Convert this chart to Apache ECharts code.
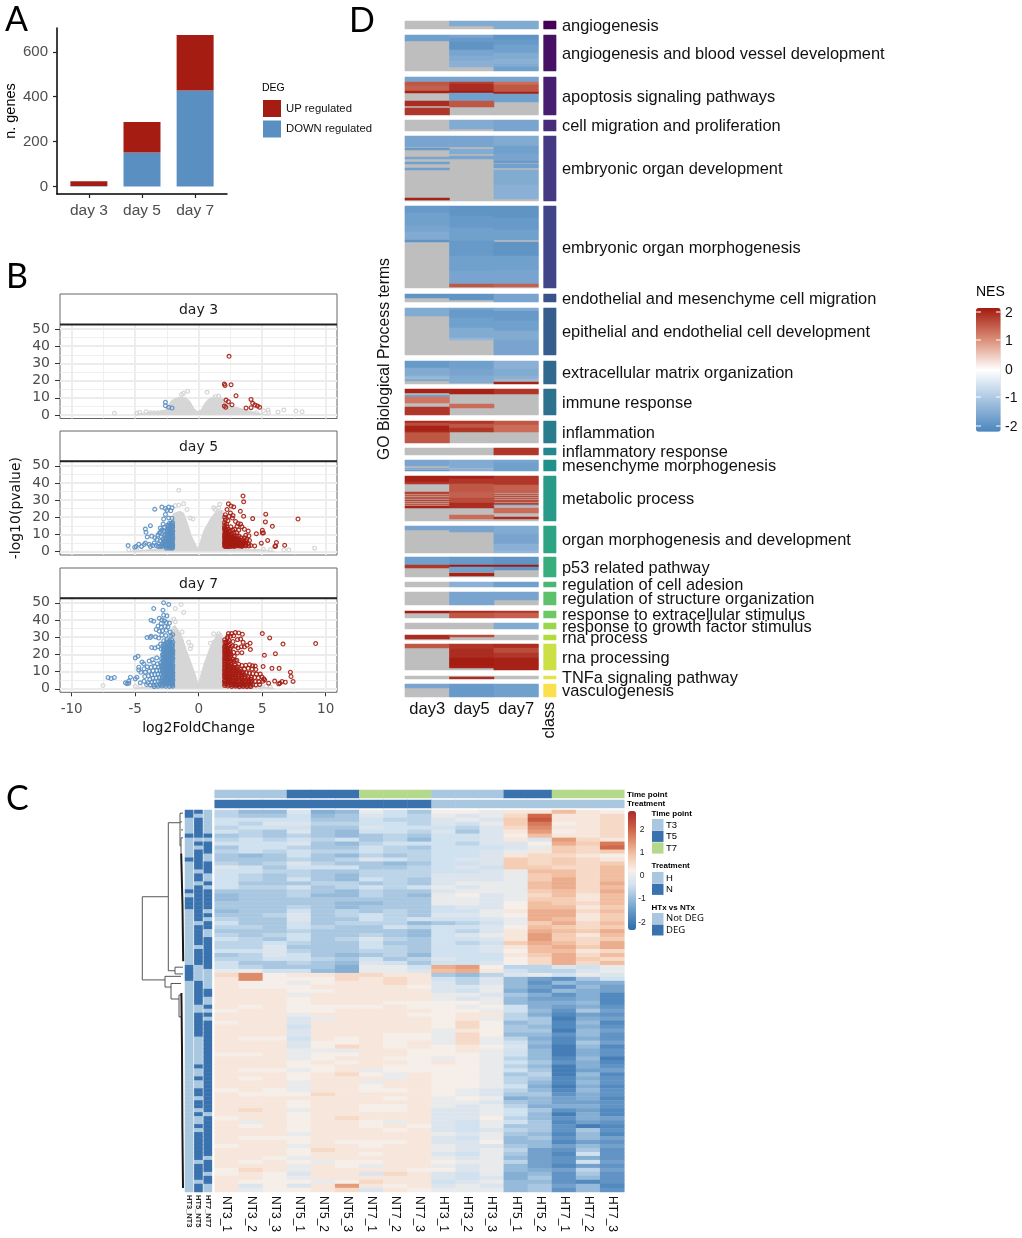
<!DOCTYPE html>
<html><head><meta charset="utf-8">
<style>html,body{margin:0;padding:0;background:#fff}#c{width:1022px;height:1238px}</style>
<script src="https://cdn.jsdelivr.net/npm/echarts@6/dist/echarts.min.js"></script>
</head><body><div id="c"></div>
<script>
// ---------- Panel A ----------
const barDays = ['day 3','day 5','day 7'];
const barDown = [3,152,428];
const barUp = [21,136,247];
// ---------- Panel B : hollow points, flat x,y lists ----------
const xMajor = [-10,-5,0,5,10];
const xMinor = [-7.5,-2.5,2.5,7.5];
const yMajor = [0,10,20,30,40,50];
const yMinor = [5,15,25,35,45];
const day3Gray = [-6.64,1,-4.86,1,-4.65,1.7,-4.15,1.9,-3.8,1.3,-3.5,1.3,-3.2,1.4,-2.9,1.6,-1.36,12,-.87,13.8,-1.2,12.6,.66,13.2,1.31,10.7,1.57,11,4.54,1.4,5.1,2.5,5.46,2.9,5.5,1.4,6.25,1.7,6.7,2.9,7.66,2.3,8.14,1.9];
const day3Down = [-2.62,7.4,-2.62,5.4,-2.36,4.5,-2.1,4.1];
const day3Up = [2.39,34.1,2.02,18,2.07,17.2,2.55,17.6,2.94,11.2,2.15,8.7,2.34,7.8,2.62,6,2.02,5.2,2.13,4.5,3.73,4.1,4.12,9.1,4.25,6.8,4.43,5.8,4.62,5.2,4.8,4.5,4.12,4.3];
const day3Hull = [-5,0,-4.6,.8,-3.8,1.5,-3,2,-2.6,3,-2.4,5,-2.2,8,-1.9,9.5,-1.4,10.5,-1,10,-.7,8,-.4,4,-.1,2,.2,3,.5,7,.8,9.5,1.2,10.5,1.8,10,2.2,7,2.6,5,3.2,4,3.9,2.5,4.6,1.2,5.4,0];
const day5Gray = [-1.57,35.7,-1.18,27.8,-1.57,27,-1.84,26.8,-.92,24.5,-.66,19.6,-.45,19,1.18,25.5,1.65,27.5,1.57,25.5,1.3,24.5,9.13,2,5.64,1,6.7,1,7.1,1,5.1,1.4,-5.5,1,-5,.8,-4.6,1.2];
const day5Down = [-5.56,3.5,-5.04,2.5,-4.93,3,-4.72,4.3,-4.5,3,-4.3,4.1,-4.2,5,-4.15,11.2,-4.2,13.1,-3.8,15.1,-3.46,24.7,-2.9,25.9,-2.62,25.1,-2.36,25.9,-2.1,25.5,-2.5,24,-2.2,23.8,-2.62,21.6,-2.76,19,-2.36,19.6,-2.1,19.4,-3.02,13.7,-4.05,8.5,-3.7,9,-3.45,8,-3.3,7,-3.2,9.6,-3.1,10.7,-3.5,5,-3.6,3.5,-3.8,3,-3.9,4.2,-3.2,3,-3.1,4.6,-3,6,-2.9,3,-2.8,5,-2.83,7.5,-2.7,9.5,-2.74,12,-2.68,14,-2.6,3.2,-2.62,5.5,-2.55,8,-2.5,10.5,-2.52,13,-2.45,15.5,-2.4,2.5,-2.43,4.5,-2.4,6.5,-2.35,9,-2.3,11.5,-2.33,14,-2.3,16.5,-2.25,3.5,-2.2,5.5,-2.24,7.5,-2.2,10,-2.2,12.5,-2.15,15,-2.1,3,-2.13,5,-2.1,7,-2.12,9,-2.1,11,-2.13,13,-2.05,15,-2.06,17,-2.8,16,-2.95,8.5,-3.35,3.5,-3,11.5,-2.9,12.6,-2.55,2,-2.3,2,-2.05,2.5,-2.04,4,-2.05,6,-2.03,8,-2.05,10,-2.04,12,-2.05,14];
const day5DownDense = [-2.08,2,-2.08,4.5,-2.08,7,-2.08,9.5,-2.08,12,-2.08,14.5,-2.08,16.5,-2.18,2.5,-2.18,4.5,-2.18,6.5,-2.18,8.5,-2.18,11,-2.18,13.5,-2.18,16,-2.28,3,-2.28,5,-2.28,6.5,-2.28,8.5,-2.28,10.5,-2.28,13,-2.28,15.5,-2.38,3.5,-2.38,5.5,-2.38,8,-2.38,10,-2.38,12.5,-2.38,15,-2.5,3,-2.5,5,-2.5,7.5,-2.5,9.5,-2.5,12,-2.62,4,-2.62,7,-2.62,10,-2.75,3.5,-2.75,6,-2.9,4,-3.05,3];
const day5Up = [7.82,19,5.28,21.8,5.25,17.3,5.8,14.7,5.01,12.4,4.54,10.4,5.01,10.8,5.1,10.8,5.43,6.5,4.93,4.9,6.12,5.3,6.06,3.3,6,3,6.77,3.7,4.41,3.3,3.94,3.3,4.25,19.2,3.49,32.4,3.54,29,2.34,27.8,2.55,26.5,2.76,26,2.23,24.5,3.28,23.5,2.5,22.5,3.54,20.6,2.65,19.5,2.1,21.5,2.05,20,2.1,18.5,2.3,18,2.4,20.5,2.7,21,2.9,17.5,3.1,16.3,3.3,16,3.02,14.7,3.4,14.5,3.6,13,3.9,12,3.7,9.5,3.95,9.2,3.6,8,3.8,7,4,6.5,4.1,3.5,3.7,3.2,3.4,3,3.2,3.2,3,3.4,2.8,3,2.6,3.1,2.4,2.9,2.2,3.2,2.05,3.5,2.03,5,2.06,6.5,2.04,8,2.05,9.5,2.07,11,2.05,12.5,2.03,14,2.05,15.5,2.04,17,2.2,4,2.22,5.5,2.18,7,2.2,8.5,2.24,10,2.2,11.5,2.17,13,2.22,14.5,2.19,16,2.35,4,2.38,5.5,2.33,7,2.36,8.5,2.34,10,2.37,11.5,2.33,13,2.5,4.1,2.53,5.5,2.48,7,2.52,8.5,2.5,10,2.47,12,2.53,14.5,2.65,4,2.63,5.5,2.67,7.2,2.65,8.6,2.62,10.5,2.68,12.5,2.8,4,2.78,5.5,2.83,7,2.8,9,2.78,11,2.83,13,3,4.5,3.04,6,2.98,7.5,3.02,9,3,11,3.15,4,3.18,5.5,3.13,7,3.17,9,3.15,12.5,3.35,3.8,3.32,5,3.37,6.5,3.33,8,3.5,4,3.53,5.5,3.48,7,3.7,4.2,3.73,5.8,3.9,4.5];
const day5UpDense = [2.06,3,2.06,4.3,2.06,5.7,2.06,7.3,2.06,8.8,2.06,10.3,2.06,13.2,2.14,3,2.14,4.6,2.14,6.2,2.14,7.8,2.14,9.2,2.14,10.8,2.14,12.2,2.28,3,2.28,4.6,2.28,6.2,2.28,7.8,2.28,9.2,2.28,10.8,2.42,3,2.42,4.8,2.42,6.2,2.42,7.8,2.42,9.2,2.58,3.4,2.58,4.8,2.58,6.2,2.58,7.8,2.58,9.2,2.72,3.4,2.72,4.8,2.72,6.2,2.72,8,2.9,3.4,2.9,4.8,2.9,6.4,2.9,8,3.08,3.4,3.08,5,3.08,6.4,3.25,3.6,3.25,5,3.45,3.4,3.45,4.8,3.65,3.6,3.65,5];
const day5Hull = [-5.5,0,-4,1,-3,1.8,-2.3,12,-2,22,-1.5,23.5,-1.2,22.5,-.9,17,-.6,9.5,-.3,5,-.05,1.5,.1,1.6,.4,12,.7,16,1,20,1.4,23.5,1.9,24,2.4,2,3.5,1.4,5,1,6,0];
const day7Gray = [-7.53,1.9,-1.84,46.7,-1.39,49,-1.18,44.4,-1.97,40.5,-1.84,39,-1.31,33,-.79,27,-.66,23.3,-.6,25,1.18,32,1.57,32,1.7,31,1.18,27,.92,26.5,5.64,1,5.3,1.5,4.9,1,-5,1.5,-4.6,1.7];
const day7Down = [-7.14,6.6,-6.9,6,-6.64,6.6,-5.77,3.5,-5.64,3,-5.5,4.5,-5.38,6.8,-5.5,3.2,-4.99,5.8,-4.86,6.8,-4.99,18,-4.78,18.9,-4.72,12.6,-4.72,11,-4.46,15.6,-4.33,14.6,-4.07,29.8,-3.81,29.8,-3.75,30.5,-3.54,46.7,-3.75,39.9,-3.54,39.3,-2.76,50,-2.36,49,-2.81,45.7,-2.76,42.8,-2.5,42.4,-3.1,41,-2.9,40,-2.7,39.5,-2.95,38,-2.55,38.5,-2.3,38.2,-3.2,36.5,-2.95,35.8,-2.65,36.2,-2.42,35.9,-3.35,34.5,-3.1,33.5,-2.85,33.8,-2.55,34,-2.25,33,-2.05,31.5,-2.2,30.8,-2.6,31,-2.9,31.2,-3.15,29.5,-3.4,30.2,-3.7,24,-3.45,23.8,-3.2,24.5,-3,26,-2.75,28,-2.5,28.6,-2.3,28,-2.12,28.5,-2.04,27,-2.1,25.8,-2.27,26,-2.45,26.4,-2.62,26,-2.8,25.3,-2.95,23,-2.8,22.7,-2.6,23.6,-2.45,24,-2.25,23.8,-2.08,23.5,-2.03,22,-2.15,21.6,-2.32,21.4,-2.5,21.6,-2.68,21,-2.85,20,-2.7,19,-2.52,19.4,-2.35,19.2,-2.18,19.5,-2.04,19.8,-2.03,17.8,-2.2,17.4,-2.38,17.2,-2.55,17.2,-2.74,17,-2.92,17.6,-3.3,18,-3.65,17,-3.9,16.2,-3.55,15,-3.25,14.6,-3,15.2,-2.78,15,-2.6,15,-2.42,15.2,-2.23,15.4,-2.05,15.6,-2.03,13.6,-2.2,13.2,-2.38,13.1,-2.56,13,-2.75,13,-2.95,12.8,-3.15,12.6,-3.45,12.9,-3.75,12.5,-4.05,12.8,-4.3,11.7,-4.55,9.6,-4.2,9.7,-3.9,10.2,-3.6,10.5,-3.3,10.6,-3.05,10.8,-2.85,10.9,-2.65,11,-2.48,11.1,-2.3,11,-2.14,11.2,-2.04,11.4,-2.03,9.4,-2.2,9,-2.38,9,-2.57,8.9,-2.76,8.8,-2.96,8.6,-3.2,8.6,-3.45,8.3,-3.7,8.2,-3.95,7.6,-4.25,7.2,-3.85,5.5,-3.6,6.2,-3.35,6.3,-3.1,6.5,-2.88,6.7,-2.68,6.8,-2.48,6.9,-2.3,7,-2.13,7.1,-2.03,7.2,-2.03,5.2,-2.2,4.9,-2.4,4.8,-2.6,4.7,-2.8,4.6,-3,4.4,-3.2,4.3,-3.45,4.1,-3.7,3.8,-4,3.6,-4.3,4.4,-4.6,3.5,-4.1,2.5,-3.8,2.3,-3.55,2.2,-3.3,2.4,-3.05,2.5,-2.85,2.4,-2.65,2.6,-2.45,2.7,-2.25,2.8,-2.05,3,-2.04,1.5,-2.3,1.4,-2.6,1.5,-2.9,1.6,-3.2,1.5,-3.5,1.3];
const day7DownDense = [-2.12,2,-2.3,3.5,-2.5,3.6,-2.7,3.4,-2.92,3.3,-2.08,4,-2.28,4.1,-2.48,5.6,-2.7,5.6,-2.9,5.5,-2.1,6,-2.25,6.1,-2.4,6,-2.58,5.9,-2.78,7.6,-2.58,7.7,-2.4,7.9,-2.2,8,-2.08,8.2,-2.3,10,-2.47,9.9,-2.66,9.8,-2.86,9.8,-2.1,10,-2.2,10.2,-2.1,12.2,-2.28,12,-2.45,12.1,-2.65,12,-2.85,11.9,-2.12,14.4,-2.3,14.2,-2.48,14.1,-2.68,14,-2.88,14,-2.12,16.4,-2.3,16.3,-2.47,16.2,-2.65,16.1,-2.84,16.2,-2.12,18.5,-2.3,18.3,-2.45,18.3,-2.62,18.2,-2.8,18.1,-2.12,20.5,-2.28,20.3,-2.44,20.4,-2.6,20.3,-2.78,20.2,-2.1,22.7,-2.24,22.6,-2.4,22.5,-2.55,22.6,-2.72,22.4,-2.12,24.6,-2.3,24.7,-2.52,24.9,-2.7,24.4,-2.2,27,-2.38,26.8,-2.55,27.2,-2.06,3,-2.06,5,-2.06,9,-2.06,13,-2.06,17,-2.06,21,-2.06,25,-2.18,3,-2.18,7,-2.18,11.5,-2.18,14.5,-2.18,18.5,-2.18,22.7,-2.35,3,-2.35,6,-2.35,10,-2.35,13,-2.35,16,-2.35,20,-2.35,24.8,-2.55,4,-2.55,7,-2.55,11,-2.55,14,-2.55,18,-2.55,22,-2.75,4.5,-2.75,9,-2.75,12,-2.75,15.5,-2.75,19.5,-2.75,23.5];
const day7Up = [9.21,26.3,6.64,26,5.59,29.6,5.01,32.1,6.04,20.4,5.17,19.5,5.07,13,5.77,11.9,6.33,11.9,7.22,9.7,7.27,7.2,7.43,4.3,6.82,3.9,6.56,4.3,6.3,2.9,6.4,3.3,5.98,4.5,5.51,3.3,5.12,5.8,4.05,26.5,4.07,22.8,3.81,25.3,3.44,31.7,3.15,32.5,2.89,32.7,2.6,32.1,2.34,32.1,2.5,30.5,2.75,30.8,2.25,29.6,2.05,28.5,2.4,28,2.7,27.5,3.05,28.6,3.3,28.9,3.5,27,3.6,24.3,3.35,24.5,3.1,23.8,2.9,24.8,2.65,24.9,2.4,25.4,2.15,25.8,2.04,24.2,2.2,23.7,2.45,23,2.04,21.9,2.23,21.4,2.5,20.8,2.75,21.2,3.05,20.8,3.4,21,2.05,19.6,2.25,19.2,2.5,18.4,2.8,18.9,2.04,17.5,2.25,17,2.5,16.3,2.75,16,3,16.6,2.04,15.3,2.3,15,2.55,14.2,2.85,13.8,3.15,14.3,3.4,13.6,3.7,13.7,4,14,4.25,13.4,4.45,13.3,4.5,11.3,4.2,11.5,3.9,11.9,3.6,11.5,3.3,11.2,3,11.6,2.75,11.8,2.5,12,2.25,12.7,2.04,13,2.03,10.8,2.25,10.3,2.5,9.8,2.75,9.4,3,9.2,3.25,9.4,3.5,9.2,3.75,9.3,4,9,4.25,8.9,4.55,8.6,4.85,8.6,4.98,6.9,4.7,6.4,4.4,6.6,4.15,6.7,3.9,7,3.65,6.9,3.4,7,3.15,7.1,2.9,7.2,2.65,7.3,2.4,7.6,2.2,8,2.03,8.5,2.04,6.4,2.25,5.9,2.45,5.4,2.7,5.2,2.95,5,3.2,4.9,3.45,5,3.7,4.7,3.95,4.6,4.2,4.6,4.45,4.3,4.75,4.1,5.05,4.4,5.2,5.2,2.03,4.2,2.25,3.6,2.5,3.2,2.75,3.1,3,2.8,3.25,2.7,3.5,2.9,3.75,2.6,4,2.8,4.25,2.5,4.5,2.3,4.8,2.5,2.04,2,2.3,1.6,2.6,1.4,2.9,1.5,3.2,1.2,3.5,1.4,3.8,1.2,4.1,1.3];
const day7UpDense = [2.06,3,2.06,5,2.06,7.4,2.06,9.6,2.06,12,2.06,14.2,2.06,16.4,2.06,18.5,2.06,20.8,2.06,23,2.06,25,2.06,27,2.15,2.8,2.15,5,2.15,7,2.15,9.2,2.15,11.4,2.15,13.8,2.15,16,2.15,18,2.15,20.2,2.15,22.5,2.15,24.8,2.15,27.2,2.3,2.6,2.3,4.8,2.3,6.8,2.3,9,2.3,11.2,2.3,13.6,2.3,16,2.3,18.2,2.3,20.3,2.3,22.6,2.3,24.6,2.3,27,2.3,30.5,2.42,3.8,2.42,6.4,2.42,8.6,2.42,10.8,2.42,13,2.42,15.6,2.42,17.6,2.42,20,2.42,22,2.55,2.4,2.55,4.6,2.55,6.8,2.55,8.8,2.55,10.9,2.55,13,2.55,15.4,2.55,19.5,2.55,24,2.7,2.2,2.7,4.2,2.7,6.3,2.7,8.4,2.7,10.6,2.7,12.8,2.7,17.2,2.88,2.2,2.88,4,2.88,6.2,2.88,8.2,2.88,10.4,2.88,12.6,2.88,16.5,3.05,2,3.05,4,3.05,6,3.05,8.2,3.05,10.4,3.05,12.8,3.2,2.2,3.2,4.2,3.2,6.1,3.2,8.2,3.2,10.4,3.4,2,3.4,4,3.4,6.2,3.4,8.1,3.4,10,3.6,2.2,3.6,4,3.6,6,3.6,8.2,3.85,2,3.85,3.8,3.85,5.8,4.1,2.1,4.1,3.8,4.1,5.6];
const day7Hull = [-5,0,-4,1.2,-2.8,1.8,-2.2,34,-1.9,37,-1.6,34,-1.3,30,-1,23,-.65,16,-.3,9,-.03,2.6,.1,3,.4,14,.7,20,.9,24,1.2,28,1.45,32,1.85,30,2.3,2,4,1.2,5.5,.8,6,0];
// ---------- Panel C ----------
const sampleNames = ['NT3_1','NT3_2','NT3_3','NT5_1','NT5_2','NT5_3','NT7_1','NT7_2','NT7_3','HT3_1','HT3_2','HT3_3','HT5_1','HT5_2','HT7_1','HT7_2','HT7_3'];
const timeCodes = [0,0,0,1,1,1,2,2,2,0,0,0,1,1,2,2,2];
const treatCodes = [1,1,1,1,1,1,1,1,1,0,0,0,0,0,0,0,0];
// one letter per sample: m = 0, each step of the alphabet = 0.2 in z-score
const geneRows = [
'jhh lgh mki nnm oo ron','jii khi lkj mlm pw oop','kkk kii kjj lml qx oop','kjl ljj kkj lkm qv nop','jkk kii lkk kjl pu oop','kji lih kkj lil ot nop','iji jih iji kkl nr oop','jkj kjk ijh kkl ol tpo',
'kkk lih jkk kjl ln sqv','ikk jii kji kkk lm qpw','jkj kjj kjj kkl mo qpq','ihi kih jij kkl op pon','iii jij lkj kll qp qpo','jij lji ihi kkl qp qpq','lki kkk iij klk qq ppr','kkj jii jjj kkl mr rpr',
'kji jih jjj lll mq rpr','kji kih kji lll mq spr','kii ijj iji lmm mr sps','kjj kij kjk mlm mr spr','iii jih jii lmm mq rps','hii jhh jih mnl mp ror','hii iii iii mml mq qor','iii iih hii mml nr qpr',
'iii jih iii kll nr roq','hii kij iji kkm os spr','iij lij kji llm ns soq','jii lii kjk kkl ms roq','kii kij jjh ijk mq spr','jji kji ikj kkl nr qpq','iii jii iih kjl os rqs','jij kii jih klm ot qor',
'kji kij lji kkl ot qpq','jjk jii kii kjk qs rps','jjl iii kji kkl or sqs','kkl jii jji kkl nr rop','ijl kih ijh kkk oq spr','jjk kji kij lkk np sqp','kii jih lki kkl np spr',
'kji iig mmk stn jj lkm','mmk khg mml rso kj jlm','pun oop poo ihj lm kml','oun nnp opo kjl hf eik','onn mno opo ljl he hgg',
'onn noo oon llm hf ehf','ooo nno ooo lkm ge hgf','ooo moo ooo mml ig egd','ooo noo ooo mlm hf fgd',
'ooo noo onn nnm hg ghd','ono nnn non nmn kg fge','noo nno ooo nnm kh eif','ooo moo oon noo jg dfe','ooo lmo ooo nom ji cgf','noo loo ooo npn hi dhd','ooo koo ooo npn ih dge','ooo loo ooo mon ii chf',
'ooo loo onn mpn hh ehe','onn kon onn mpm jg dge','ooo lnn ono mpm kh dif','ooo lnp ono non lg chd','ooo mmm oon nom kh cge','nno mnn oon nnm kh cge','ooo mno onn mnm jh dhc','ooo non oon onm ki egd',
'ooo nno onn nnm jh cge','onn mno mnn nnm ki cff','ooo nop nmo nnm ij chd','ono noo omo nnm ji dge','ooo moo moo nnm jh dhe','ooo moo noo nnm kg cgd','non moo nno nml jh dhe','onn npo ooo nml ii ege',
'ooo ooo ono mnm gh fgd','ooo noo ooo mml ih ffe','ooo noo nno mlm jg gge','opo moo nno llm ki efd','ooo noo ooo llm kh cgd','noo nop ooo lln jh egf','omo noo nmo lkm ki dfe','ono noo non lkm ii ecd',
'ooo noo ono lkl ji eie','ooo moo ooo mlm ih dhd','onn noo ooo lkm hi ehf','ooo non nno lln hh dfe','noo moo noo mll ih fhf','ooo npo ooo mlm jf eie','ooo noo noo lkm if dke','oon moo ooo mlm hf ege',
'ono nmn noo nmm jf ekf','ooo mon moo mlm hf dfe','npo moo oon nlm hg fjf','non loo lpo lkm gh eie','oon moo ooo lkl gi ehe','onn nmn poo klm hh ede','oln lot ono lml hi fhd','omn nop lon mmm hi ehe'];
const degNames = ['HT3_NT3','HT5_NT5','HT7_NT7'];
const deg3Rows = [0,1,6,12,20,22,23,24,39,40,41,42];
const deg5Rows = [0,2,3,4,5,6,8,10,11,12,13,14,16,17,19,20,21,22,23,24,25,26,27,29,30,31,32,33,35,36,37,38,43,44,45,46,47,48,51,52,53,54,55,56,64,67,70,71,73,74,76,79,81,82,83,84,85,86,87,89,90,91,92,94,95];
const deg7Rows = [6,8,9,10,13,14,15,18,20,21,22,23,24,26,28,29,32,33,34,35,36,37,38,39,45,46,49,51,53,54,55,56,57,58,59,60,61,62,63,64,65,66,67,68,69,70,71,72,73,74,75,77,78,79,80,81,82,83,84,85,86,88,89,90,92,93];
const dendroLinks = [[41.7,21.8,41.7,42.7],[41.7,21.8,15.7,21.8],[15.7,3.2,15.7,40.4],[15.7,3.2,4,3.2],[15.7,40.4,9,40.4],[9,39.5,9,41.2],[9,39.5,1,39.5],[9,41.2,1,41.2],[41.7,42.7,19,42.7],[19,41.8,19,44.5],[19,41.8,3,41.8],[19,44.5,13,44.5],[13,43.6,13,47.5],[13,43.6,3,43.6],[13,47.5,5,47.5],[5,46.5,5,52],[5,46.5,2,46.5],[5,52,2.5,52],[4,.8,4,9],[4,.8,1,.8],[4,3,2,3],[3,5,1,5],[4,9,3,9],[3,7,3,11],[3,7,1,7],[3,11,2,11]];
const dendroLeaves = [[2.8,11,1.5,24],[1.5,24,.8,38],[2.6,46,2,60],[2,60,1.6,80],[1.6,80,1,95]];
// ---------- Panel D ----------
const goDays = ['day3','day5','day7'];
const goTerms = ['angiogenesis','angiogenesis and blood vessel development','apoptosis signaling pathways','cell migration and proliferation','embryonic organ development','embryonic organ morphogenesis','endothelial and mesenchyme cell migration','epithelial and endothelial cell development','extracellular matrix organization','immune response','inflammation','inflammatory response','mesenchyme morphogenesis','metabolic process','organ morphogenesis and development','p53 related pathway','regulation of cell adesion','regulation of structure organization','response to extracellular stimulus','response to growth factor stimulus','rna process','rna processing','TNFa signaling pathway','vasculogenesis'];
const termTop = [0,14,56,99,115,185,273,287,340,368,400,427,439,455,505,536,561,571,590,602,614,623,655,663];
const termRows = [8,36,38,11,65,82,8,47,23,26,22,7,11,45,27,20,5,13,7,6,5,26,3,13];
const classColors = ['#440154','#471164','#481f70','#472d7b','#443a83','#404688','#3b528b','#365d8d','#31688e','#2c728e','#287c8e','#24868e','#21908c','#2a9a88','#2fa484','#3aad7e','#4bb776','#5dc16c','#6ec864','#84d056','#98d74c','#b0dc40','#ccdf46','#e4e24a','#fae04e'];
classColors.splice(19,1);
// runs of [rows, NES]; null = not significant (grey)
const day3Runs = [
[[8,null]],[[6,-1.7],[30,null]],[[5,-1.6],[4,1.6],[5,1.5],[2,2.1],[8,null],[5,2],[2,null],[7,1.9]],[[11,null]],
[[11,-1.6],[1,null],[2,-1.8],[7,null],[2,-1.6],[3,null],[2,-1.7],[4,null],[2,-1.7],[28,null],[2,2.1],[1,null]],
[[7,-1.8],[6,-1.7],[7,-1.7],[6,-1.6],[8,-1.5],[2,-1.9],[46,null]],[[4,-1.9],[4,null]],[[8,-1.5],[39,null]],
[[7,-1.8],[8,-1.5],[2,-1.3],[1,null],[2,-1.5],[3,null]],[[4,2.1],[2,null],[2,-1.7],[6,1.3],[4,null],[8,1.9]],
[[2,2],[3,1.7],[6,2.1],[1,1.8],[10,1.6]],[[7,null]],[[6,-1.6],[2,null],[1,-1.5],[1,null],[1,-1.9]],
[[6,2.1],[2,1.9],[8,null],[2,1.8],[1,null],[1,1.6],[1,null],[2,1.6],[1,null],[1,1.8],[1,null],[1,1.6],[1,null],[1,1.6],[1,null],[2,2.1],[13,null]],
[[4,-1.6],[23,null]],[[8,-1.7],[3,1.9],[9,null]],[[5,null]],[[13,null]],[[2,2.2],[5,null]],[[6,null]],[[4,2],[1,null]],[[4,1.6],[22,null]],[[3,null]],[[4,-1.6],[9,null]]];
const day5Runs = [
[[5,-1.5],[3,null]],[[3,-1.6],[4,-1.8],[8,-1.9],[6,-1.6],[5,-1.5],[6,-1.4],[4,null]],[[5,-1.6],[2,1.8],[7,2],[2,2.2],[8,-1.7],[6,1.6],[8,null]],[[9,-1.5],[2,null]],
[[11,-1.6],[2,null],[5,-1.5],[2,null],[3,-1.6],[42,null]],[[10,-1.9],[12,-1.8],[13,-1.7],[15,-1.8],[15,-1.7],[13,-1.6],[3,1.6],[1,null]],[[6,-1.9],[2,null]],
[[2,-1.6],[8,-1.8],[10,-1.7],[10,-1.5],[2,-1.3],[15,null]],[[8,-1.7],[7,-1.6],[7,-1.5],[1,null]],[[5,2.1],[10,null],[4,1.4],[7,null]],
[[3,1.9],[4,1.6],[4,1.9],[11,null]],[[7,null]],[[8,-1.5],[1,null],[2,-1.4]],[[3,2.1],[5,1.9],[8,1.6],[6,1.5],[5,1.7],[5,2],[7,null],[4,1.4],[2,null]],
[[6,-1.6],[21,null]],[[8,-1.8],[2,2.2],[5,-1.7],[1,null],[3,2.1],[1,null]],[[5,-1.4]],[[13,-1.6]],[[2,2],[5,1.6]],[[6,null]],[[2,1.7],[3,null]],[[5,1.9],[9,2],[8,2.15],[2,2.1],[2,null]],[[1,null],[2,2]],[[13,-1.8]]];
const day7Runs = [
[[8,-1.5]],[[5,-1.9],[5,-1.8],[8,-1.7],[6,-1.5],[5,-1.4],[3,-1.5],[4,-1.7]],[[5,-1.6],[3,1.4],[7,1.6],[2,2.1],[8,-1.7],[13,null]],[[11,-1.6]],
[[10,-1.5],[8,-1.7],[7,-1.6],[2,-1.8],[1,null],[4,-1.7],[2,null],[15,-1.5],[14,-1.4],[2,null]],[[12,-1.9],[12,-1.8],[10,-1.7],[2,null],[14,-1.9],[14,-1.7],[14,-1.6],[3,1.5],[1,null]],[[8,-1.6]],
[[3,-1.5],[10,-1.8],[10,-1.7],[9,-1.5],[15,-1.6]],[[8,-1.4],[7,-1.5],[3,-1.4],[1,null],[1,-1.3],[1,null],[2,2.1]],[[5,1.9],[21,null]],
[[4,1.6],[7,1.4],[11,null]],[[7,1.9]],[[3,-1.6],[8,-1.7]],[[9,1.9],[8,1.5],[1,null],[1,1.6],[1,null],[1,1.7],[1,null],[1,1.6],[1,null],[2,1.7],[1,null],[2,1.8],[1,-1.4],[2,null],[5,1.4],[4,null],[2,2],[2,null]],
[[8,-1.5],[10,-1.6],[7,-1.4],[2,-1.3]],[[8,-1.9],[2,2.2],[3,-1.9],[7,null]],[[5,-1.7]],[[8,-1.6],[5,null]],[[2,1.9],[5,1.5]],[[6,-1.5]],[[5,null]],[[4,2],[5,1.7],[5,1.9],[12,2.1]],[[3,null]],[[13,-1.7]]];

// ---------- build ----------
const RED='#a51c12', BLUE='#5a8fc2', LIGHT='#a9c8e0', DARK='#3a72ae', GREEN='#b5d98a', NAGREY='#bebebe';
const grids=[], xAxes=[], yAxes=[], series=[], graphics=[];
const pairs = f => { const o=[]; for(let i=0;i+1<f.length;i+=2) o.push([f[i],f[i+1]]); return o; };
const hide = {axisLine:{show:false},axisTick:{show:false},axisLabel:{show:false},splitLine:{show:false}};
function grid(left,top,width,height,extra){grids.push(Object.assign({left,top,width,height},extra||{}));return grids.length-1;}
function text(t,x,y,size,extra){graphics.push({type:'text',silent:true,z:50,x,y,rotation:(extra&&extra.rotation)||0,style:Object.assign({text:t,fontSize:size,fontFamily:'Liberation Sans',fill:'#000',align:'left',verticalAlign:'middle'},extra&&extra.style||{})});}
function rect(x,y,w,h,fill,stroke){graphics.push({type:'rect',silent:true,z:40,shape:{x,y,width:w,height:h},style:{fill,stroke:stroke||null,lineWidth:1}});}
function hline(x1,y1,x2,y2,c,w){graphics.push({type:'line',silent:true,z:45,shape:{x1,y1,x2,y2},style:{stroke:c,lineWidth:w}});}

// A : 17 evenly spaced slots so the three days sit 0.6 steps in from each end of the axis
const barSlots=[3,8,13];
const slotNames=Array.from({length:17},(_,i)=>{const k=barSlots.indexOf(i);return k<0?' ':barDays[k];});
const gA=grid(57,28,170,166);
const isBarSlot=i=>barSlots.includes(i);
xAxes.push({gridIndex:gA,type:'category',boundaryGap:false,data:slotNames,splitLine:{show:false},axisLine:{onZero:false,lineStyle:{color:'#000',width:1.5}},axisTick:{interval:isBarSlot,length:4,lineStyle:{color:'#222',width:1.2}},axisLabel:{interval:isBarSlot,fontSize:15.5,color:'#4d4d4d',margin:9}});
yAxes.push({gridIndex:gA,type:'value',min:-33,max:706,name:'n. genes',nameLocation:'middle',nameGap:39,nameTextStyle:{fontSize:14.5,color:'#000'},splitLine:{show:false},axisLine:{onZero:false,show:true,lineStyle:{color:'#000',width:1.5}},axisTick:{show:true,customValues:[0,200,400,600],length:4,lineStyle:{color:'#222',width:1.2}},axisLabel:{customValues:[0,200,400,600],fontSize:15,color:'#4d4d4d',margin:9}});
series.push({type:'bar',name:'DOWN regulated',stack:'n',xAxisIndex:xAxes.length-1,yAxisIndex:yAxes.length-1,barWidth:37,data:barDown.map((v,i)=>[barSlots[i],v]),itemStyle:{color:BLUE}});
series.push({type:'bar',name:'UP regulated',stack:'n',xAxisIndex:xAxes.length-1,yAxisIndex:yAxes.length-1,barWidth:37,data:barUp.map((v,i)=>[barSlots[i],v]),itemStyle:{color:RED}});
text('DEG',262,88.5,10.5);

// B
const facets=[
 {t:'day 3',st:294,sb:324.5,b:418.5,gray:day3Gray,dn:day3Down,up:day3Up,hull:day3Hull},
 {t:'day 5',st:431,sb:461.3,b:555,gray:day5Gray,dn:day5Down.concat(day5DownDense),up:day5Up.concat(day5UpDense),hull:day5Hull},
 {t:'day 7',st:568,sb:598.3,b:692.3,gray:day7Gray,dn:day7Down.concat(day7DownDense),up:day7Up.concat(day7UpDense),hull:day7Hull}];
facets.forEach((f,i)=>{
  const g=grid(60,f.sb,277,f.b-f.sb,{show:true,borderColor:'#666',borderWidth:1,backgroundColor:'#fff',z:0});
  const last=i===2, mid=i===1;
  xAxes.push({gridIndex:g,type:'value',min:-10.92,max:10.89,splitLine:{show:false},axisLine:{show:false,onZero:false},
    axisTick:{show:last,customValues:xMajor,length:4,lineStyle:{color:'#333'}},
    axisLabel:{show:last,customValues:xMajor,fontFamily:'DejaVu Sans',fontSize:13.5,color:'#4d4d4d',margin:10},
    name:last?'log2FoldChange':'',nameLocation:'middle',nameGap:29,nameTextStyle:{fontFamily:'DejaVu Sans',fontSize:14,color:'#111'}});
  yAxes.push({gridIndex:g,type:'value',min:-2,max:52.6,splitLine:{show:false},axisLine:{show:false,onZero:false},
    axisTick:{show:true,customValues:yMajor,length:5,lineStyle:{color:'#333'}},
    axisLabel:{customValues:yMajor,fontFamily:'DejaVu Sans',fontSize:14,color:'#4d4d4d',margin:10},
    name:mid?'-log10(pvalue)':'',nameLocation:'middle',nameGap:37,nameTextStyle:{fontFamily:'DejaVu Sans',fontSize:14,color:'#111'}});
  const xi=xAxes.length-1, yi=yAxes.length-1;
  const ml=(vals,key,w)=>vals.map(v=>({[key]:v,lineStyle:{color:'#ececec',width:w,type:'solid'}}));
  series.push({type:'scatter',xAxisIndex:xi,yAxisIndex:yi,data:[[0,0]],symbolSize:0,silent:true,z:1,
    markLine:{silent:true,symbol:'none',label:{show:false},animation:false,z:1,
      data:[...ml(xMajor,'xAxis',1.8),...ml(xMinor,'xAxis',.8),...ml(yMajor,'yAxis',1.8),...ml(yMinor,'yAxis',.8)]}});
  series.push({type:'line',xAxisIndex:xi,yAxisIndex:yi,data:pairs(f.hull),showSymbol:false,symbol:'none',silent:true,z:2,lineStyle:{color:'#d6d6d6',width:1},areaStyle:{color:'#d6d6d6',opacity:1,origin:0}});
  const pts=(d,c,z,o)=>series.push({type:'scatter',xAxisIndex:xi,yAxisIndex:yi,data:pairs(d),symbolSize:3.8,silent:true,z,itemStyle:{color:'rgba(255,255,255,0)',borderColor:c,borderWidth:1.2,opacity:o}});
  pts(f.gray,'#d6d6d6',3,1); pts(f.dn,'#5a8fc2',4,.9); pts(f.up,'#a51c12',4,.9);
  rect(60,f.st,277,f.sb-f.st,'#fff','#666');
  hline(60,f.sb,337,f.sb,'#222',2);
  text(f.t,198.5,(f.st+f.sb)/2+1,14,{style:{fontFamily:'DejaVu Sans',align:'center',fill:'#1a1a1a'}});
});

// C
const catIdx=[]; // indices of series with categorical colours
const topG=(top,codes)=>{
  const g=grid(214.7,top,409.6,8);
  xAxes.push({gridIndex:g,type:'category',data:sampleNames,...hide});
  yAxes.push({gridIndex:g,type:'category',data:['a'],...hide});
  series.push({type:'heatmap',xAxisIndex:xAxes.length-1,yAxisIndex:yAxes.length-1,data:codes.map((c,i)=>[i,0,c]),progressive:0,silent:true});
  catIdx.push(series.length-1);
};
topG(790,timeCodes); topG(800,treatCodes);
const rowIdx=geneRows.map((_,i)=>i);
const gC=grid(214.7,810,409.6,382);
xAxes.push({gridIndex:gC,type:'category',data:sampleNames,axisLine:{show:false},axisTick:{show:false},splitLine:{show:false},axisLabel:{rotate:-90,fontSize:12,color:'#111',margin:4,interval:0}});
yAxes.push({gridIndex:gC,type:'category',inverse:true,data:rowIdx,...hide});
const cData=[];
geneRows.forEach((r,ri)=>{const s=r.replace(/ /g,'');for(let c=0;c<s.length;c++)cData.push([c,ri,(s.charCodeAt(c)-109)*0.2]);});
series.push({type:'heatmap',xAxisIndex:xAxes.length-1,yAxisIndex:yAxes.length-1,data:cData,progressive:0,silent:true});
const cHeatIdx=series.length-1;
[deg3Rows,deg5Rows,deg7Rows].forEach((rows,k)=>{
  const g=grid(185+k*9.35,810,8.2,382);
  xAxes.push({gridIndex:g,type:'category',data:[degNames[k]],axisLine:{show:false},axisTick:{show:false},splitLine:{show:false},axisLabel:{rotate:-90,fontSize:7.5,fontWeight:'bold',color:'#222',margin:3,interval:0}});
  yAxes.push({gridIndex:g,type:'category',inverse:true,data:rowIdx,...hide});
  const set=new Set(rows);
  series.push({type:'heatmap',xAxisIndex:xAxes.length-1,yAxisIndex:yAxes.length-1,data:rowIdx.map(r=>[0,r,set.has(r)?1:0]),progressive:0,silent:true});
  catIdx.push(series.length-1);
});
const gDen=grid(140,810,44,382);
xAxes.push({gridIndex:gDen,type:'value',inverse:true,min:0,max:44,...hide});
yAxes.push({gridIndex:gDen,type:'value',inverse:true,min:0,max:96,...hide});
const link=ls=>{const o=[];ls.forEach(l=>{o.push([l[0],l[1]],[l[2],l[3]],['-','-']);});return o;};
series.push({type:'line',xAxisIndex:xAxes.length-1,yAxisIndex:yAxes.length-1,data:link(dendroLinks),showSymbol:false,symbol:'none',silent:true,lineStyle:{color:'#555',width:1}});
series.push({type:'line',xAxisIndex:xAxes.length-1,yAxisIndex:yAxes.length-1,data:link(dendroLeaves),showSymbol:false,symbol:'none',silent:true,lineStyle:{color:'#1a1a1a',width:2}});
// C text and keys
text('Time point',627,794.7,8,{style:{fontWeight:'bold'}});
text('Treatment',627,804,8,{style:{fontWeight:'bold'}});
[[2,830],[1,853],[0,876],[-1,899],[-2,923]].forEach(a=>text(String(a[0]),642,a[1],8.5,{style:{align:'center',fill:'#222'}}));
text('Time point',651.5,813.5,8,{style:{fontWeight:'bold'}});
[['T3',LIGHT,819],['T5',DARK,830.7],['T7',GREEN,842.4]].forEach(a=>{rect(652,a[2],11.5,11.2,a[1]);text(a[0],666,a[2]+6,9.5);});
text('Treatment',651.5,865.5,8,{style:{fontWeight:'bold'}});
[['H',LIGHT,872],['N',DARK,883.7]].forEach(a=>{rect(652,a[2],11.5,11.2,a[1]);text(a[0],666,a[2]+6,9.5);});
text('HTx vs NTx',651.5,907.5,8,{style:{fontWeight:'bold'}});
[['Not DEG',LIGHT,913],['DEG',DARK,924.5]].forEach(a=>{rect(652,a[2],11.5,11,a[1]);text(a[0],666,a[2]+5.5,9.5,{style:{fontFamily:'Open Sans'}});});

// D
const rowsD=[]; for(let i=0;i<676;i++) rowsD.push(i);
const gD=grid(405,21,133.4,676);
xAxes.push({gridIndex:gD,type:'category',data:goDays,axisLine:{show:false},axisTick:{show:false},splitLine:{show:false},axisLabel:{fontSize:16.5,color:'#111',margin:4,interval:0,hideOverlap:false}});
yAxes.push({gridIndex:gD,type:'category',inverse:true,data:rowsD,...hide,name:'GO Biological Process terms',nameLocation:'middle',nameGap:12,nameTextStyle:{fontSize:15.8,color:'#111'}});
const nesCells=[], naCells=[];
[day3Runs,day5Runs,day7Runs].forEach((runs,col)=>{
  runs.forEach((grp,gi)=>{
    let r=termTop[gi];
    grp.forEach(run=>{for(let k=0;k<run[0];k++,r++){ if(run[1]===null) naCells.push([col,r,3]); else nesCells.push([col,r,run[1]]);}});
  });
});
series.push({type:'heatmap',xAxisIndex:xAxes.length-1,yAxisIndex:yAxes.length-1,data:naCells,progressive:0,silent:true}); catIdx.push(series.length-1);
series.push({type:'heatmap',xAxisIndex:xAxes.length-1,yAxisIndex:yAxes.length-1,data:nesCells,progressive:0,silent:true});
const dHeatIdx=series.length-1;
const centers=new Map(); termTop.forEach((t,i)=>centers.set(t+Math.floor(termRows[i]/2)+1,goTerms[i]));
// a blank label on the final row keeps the axis from dropping one of the last two term labels
centers.set(675,' ');
const gK=grid(543.7,21,12.3,676);
xAxes.push({gridIndex:gK,type:'category',data:['class'],axisLine:{show:false},axisTick:{show:false},splitLine:{show:false},axisLabel:{rotate:90,fontSize:16,color:'#111',margin:5}});
yAxes.push({gridIndex:gK,type:'category',inverse:true,position:'right',data:rowsD,axisLine:{show:false},axisTick:{show:false},splitLine:{show:false},
  axisLabel:{margin:6,fontSize:16.4,lineHeight:11,color:'#111',interval:i=>centers.has(i),formatter:v=>centers.get(+v)||'',hideOverlap:false,showMinLabel:true,showMaxLabel:false}});
const classCells=[]; termTop.forEach((t,i)=>{for(let k=0;k<termRows[i];k++)classCells.push([0,t+k,10+i]);});
series.push({type:'heatmap',xAxisIndex:xAxes.length-1,yAxisIndex:yAxes.length-1,data:classCells,progressive:0,silent:true}); catIdx.push(series.length-1);
// D colour key text
text('NES',976,292,14);
[[2,313],[1,341],[0,370],[-1,398],[-2,427]].forEach(a=>{
  text(String(a[0]),1005,a[1],14,{style:{fill:'#111'}});
  if(a[0]!==0){hline(976,a[1]-1,981,a[1]-1,'#fff',1);hline(996,a[1]-1,1000.7,a[1]-1,'#fff',1);}
});
// panel letters
[['A',5,20],['B',6,277],['C',6,799],['D',349,21]].forEach(a=>text(a[0],a[1],a[2],34,{style:{fontFamily:'Lato',fill:'#000'}}));

const pieces=[{value:0,color:LIGHT},{value:1,color:DARK},{value:2,color:GREEN},{value:3,color:NAGREY}];
classColors.forEach((c,i)=>pieces.push({value:10+i,color:c}));

const chart=echarts.init(document.getElementById('c'),null,{renderer:'canvas'});
chart.setOption({
  animation:false,backgroundColor:'#fff',
  textStyle:{fontFamily:'Liberation Sans'},
  grid:grids,xAxis:xAxes,yAxis:yAxes,series,graphic:graphics,
  legend:{data:['UP regulated','DOWN regulated'],orient:'vertical',left:263,top:100,padding:0,itemWidth:18,itemHeight:17,itemGap:3.5,icon:'rect',selectedMode:false,textStyle:{fontSize:11.3,color:'#111'}},
  visualMap:[
    {type:'continuous',seriesIndex:cHeatIdx,dimension:2,min:-2.33,max:2.83,left:628,top:811,itemWidth:8,itemHeight:119,padding:0,calculable:false,hoverLink:false,
     inRange:{color:['#2f6cab','#5a8fc2','#92b8d9','#d0e1ef','#f8efe9','#f4c7ab','#e0906e','#c9583f','#ab2c2c']}},
    {type:'continuous',seriesIndex:dHeatIdx,dimension:2,min:-2.16,max:2.18,left:976,top:308,itemWidth:24.7,itemHeight:123.7,padding:0,calculable:false,hoverLink:false,
     inRange:{color:['#4a86bd','#a6c3e0','#ffffff','#d98c75','#a21a10']}},
    {type:'piecewise',show:false,seriesIndex:catIdx,dimension:2,pieces}
  ]
});
</script></body></html>
